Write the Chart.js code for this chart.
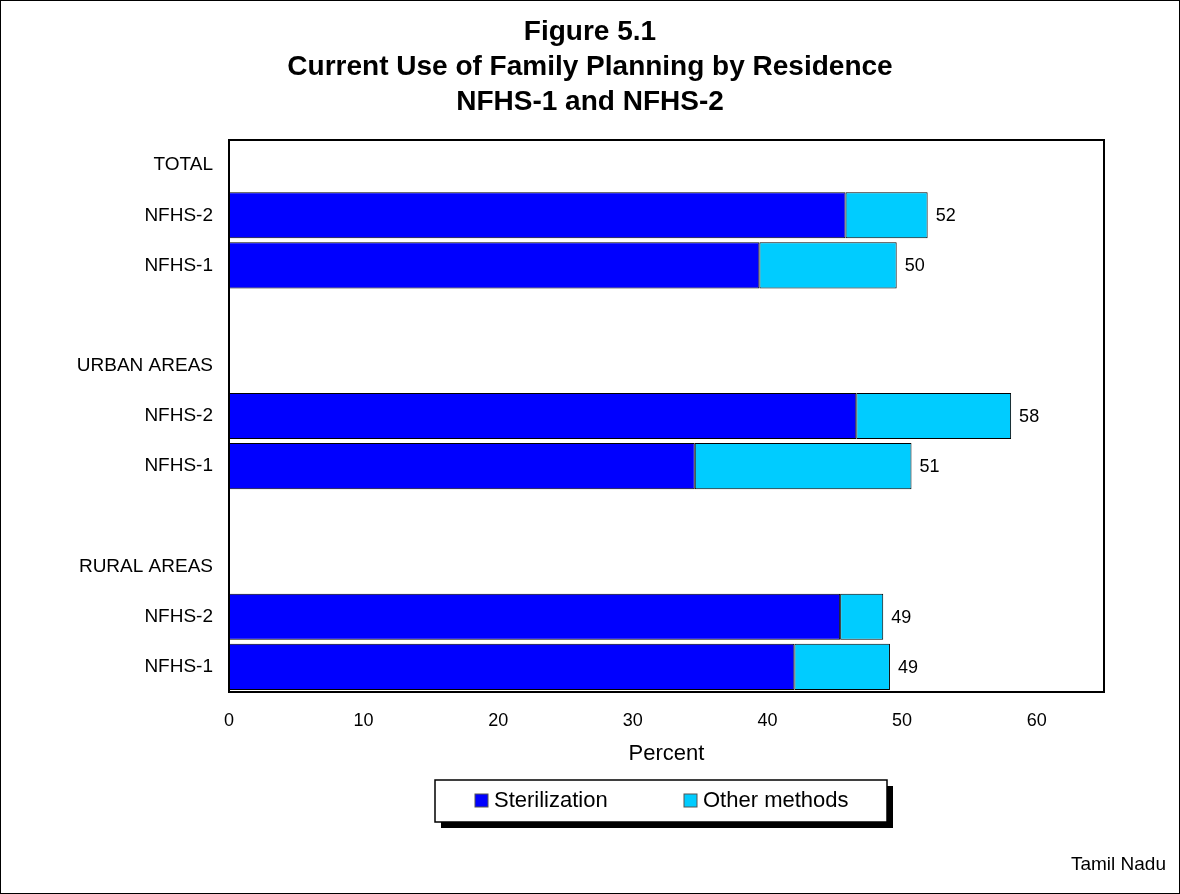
<!DOCTYPE html>
<html>
<head>
<meta charset="utf-8">
<script src="https://cdn.jsdelivr.net/npm/chart.js@4/dist/chart.umd.min.js"></script>
<style>
  html, body { margin: 0; padding: 0; background: #fff; }
  #wrap { width: 1180px; height: 894px; box-sizing: border-box; border: 1px solid #000; position: relative; }
  canvas { display: block; }
</style>
</head>
<body>
<div id="wrap"><canvas id="fp-chart" width="1178" height="892"></canvas></div>
<script>
const categories = ['TOTAL', 'NFHS-2', 'NFHS-1', '', 'URBAN AREAS', 'NFHS-2', 'NFHS-1', '', 'RURAL AREAS', 'NFHS-2', 'NFHS-1'];
const sterilization = [null, 45.8, 39.4, null, null, 46.6, 34.6, null, null, 45.4, 42.0];
const otherMethods = [null, 6.1, 10.2, null, null, 11.5, 16.1, null, null, 3.2, 7.1];
const totalLabels = [null, '52', '50', null, null, '58', '51', null, null, '49', '49'];
const xTicks = [0, 10, 20, 30, 40, 50, 60];

const FONT = 'Arial, "Liberation Sans", Helvetica, sans-serif';

// frame around plot, total labels, boxed legend, footnote
const extras = {
  id: 'extras',
  afterDatasetsDraw(chart) {
    const ctx = chart.ctx;
    const area = chart.chartArea;
    const x = chart.scales.x, y = chart.scales.y;
    ctx.save();
    ctx.strokeStyle = '#000';
    ctx.lineWidth = 2;
    ctx.strokeRect(area.left, area.top, area.right - area.left, area.bottom - area.top);

    ctx.fillStyle = '#000';
    ctx.font = '18px ' + FONT;
    ctx.textAlign = 'left';
    ctx.textBaseline = 'middle';
    totalLabels.forEach((t, i) => {
      if (!t) return;
      const v = sterilization[i] + otherMethods[i];
      ctx.fillText(t, x.getPixelForValue(v) + 8, y.getPixelForValue(i) + 1);
    });

    // legend box with shadow
    const lx = 434, ly = 779, lw = 452, lh = 42;
    ctx.fillStyle = '#000';
    ctx.fillRect(lx + 6, ly + 6, lw, lh);
    ctx.fillStyle = '#fff';
    ctx.fillRect(lx, ly, lw, lh);
    ctx.lineWidth = 1.5;
    ctx.strokeRect(lx, ly, lw, lh);
    ctx.font = '22px ' + FONT;
    const offsets = [40, 249];
    chart.data.datasets.forEach((d, k) => {
      const sx = lx + offsets[k];
      const sy = ly + lh / 2;
      ctx.fillStyle = d.backgroundColor;
      ctx.fillRect(sx, sy - 7, 13, 13);
      ctx.strokeStyle = '#555';
      ctx.lineWidth = 1;
      ctx.strokeRect(sx, sy - 7, 13, 13);
      ctx.fillStyle = '#000';
      ctx.fillText(d.label, sx + 19, sy);
    });

    ctx.font = '19px ' + FONT;
    ctx.textAlign = 'right';
    ctx.fillText('Tamil Nadu', 1165, 864);
    ctx.restore();
  }
};

new Chart(document.getElementById('fp-chart').getContext('2d'), {
  type: 'bar',
  data: {
    labels: categories,
    datasets: [
      {
        label: 'Sterilization',
        data: sterilization,
        backgroundColor: '#0000FF',
        borderColor: '#000',
        borderWidth: 1,
        borderSkipped: false,
        barPercentage: 0.92,
        categoryPercentage: 1
      },
      {
        label: 'Other methods',
        data: otherMethods,
        backgroundColor: '#00CCFF',
        borderColor: '#000',
        borderWidth: 1,
        borderSkipped: false,
        barPercentage: 0.92,
        categoryPercentage: 1
      }
    ]
  },
  options: {
    indexAxis: 'y',
    responsive: false,
    animation: false,
    layout: { padding: { left: 75, right: 75, top: 0, bottom: 126 } },
    plugins: {
      legend: { display: false },
      tooltip: { enabled: false },
      title: {
        display: true,
        text: ['Figure 5.1', 'Current Use of Family Planning by Residence', 'NFHS-1 and NFHS-2'],
        color: '#000',
        font: { family: FONT, size: 28, weight: 'bold', lineHeight: 1.25 },
        padding: { top: 14, bottom: 20 }
      }
    },
    scales: {
      x: {
        stacked: true,
        min: 0,
        max: 65,
        afterBuildTicks: axis => { axis.ticks = xTicks.map(v => ({ value: v })); },
        afterFit: axis => { axis.height = 75; },
        grid: { display: false, drawOnChartArea: false, drawTicks: true, tickLength: 6, color: '#000' },
        border: { display: true, color: '#000', width: 2 },
        ticks: { color: '#000', font: { family: FONT, size: 18 }, padding: 12, maxRotation: 0 },
        title: { display: true, text: 'Percent', color: '#000', font: { family: FONT, size: 22 }, padding: { top: 10, bottom: 0 } }
      },
      y: {
        stacked: true,
        afterFit: axis => { axis.width = 153; },
        grid: { display: false, drawTicks: false },
        border: { display: true, color: '#000', width: 2 },
        ticks: { color: '#000', font: { family: FONT, size: 19 }, padding: 16, autoSkip: false }
      }
    }
  },
  plugins: [extras]
});
</script>
</body>
</html>
